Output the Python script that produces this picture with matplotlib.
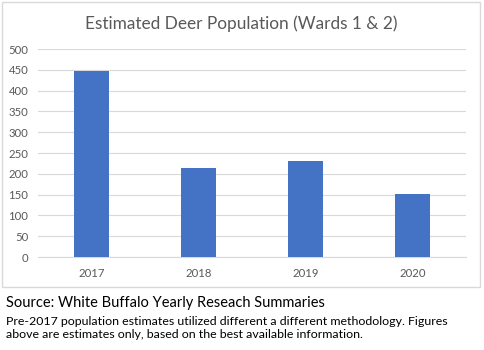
import matplotlib.pyplot as plt
from matplotlib.patches import Rectangle

years = ['2017', '2018', '2019', '2020']
deer = [448, 214, 231, 152]
y_ticks = [0, 50, 100, 150, 200, 250, 300, 350, 400, 450, 500]

plt.rcParams['font.family'] = ['Lato', 'DejaVu Sans']

W, H = 485, 350
fig = plt.figure(figsize=(W / 100, H / 100), dpi=100)

# chart frame
fig.patches.append(Rectangle((2 / W, 1 - 287 / H), 478 / W, 285 / H,
                             transform=fig.transFigure, fill=False,
                             edgecolor='#d9d9d9', linewidth=1))

ax = fig.add_axes([38 / W, 1 - 257 / H, 428 / W, 208 / H])
ax.bar(range(len(years)), deer, width=0.32, color='#4472c4', zorder=3)
ax.set_xlim(-0.5, len(years) - 0.5)
ax.set_ylim(0, 500)
ax.set_yticks(y_ticks)
ax.set_xticks(range(len(years)))
ax.set_xticklabels(years)
ax.grid(axis='y', color='#d9d9d9', linewidth=0.8, zorder=0)
for s in ['top', 'right', 'left']:
    ax.spines[s].set_visible(False)
ax.spines['bottom'].set_color('#d9d9d9')
ax.tick_params(length=0, labelsize=8.2, labelcolor='#595959')
ax.tick_params(axis='y', pad=7)
ax.tick_params(axis='x', pad=8)

fig.text(241 / W, 1 - 24 / H, 'Estimated Deer Population (Wards 1 & 2)',
         ha='center', va='center', fontsize=12.4, color='#595959')

fig.text(6 / W, 1 - 303 / H, 'Source: White Buffalo Yearly Reseach Summaries',
         ha='left', va='center', fontsize=10.5, color='black')
fig.text(6 / W, 1 - 328 / H,
         'Pre-2017 population estimates utilized different a different methodology. Figures\n'
         'above are estimates only, based on the best available information.',
         ha='left', va='center', fontsize=8.95, color='black', linespacing=1.2)

fig.savefig('out.png', dpi=100)
